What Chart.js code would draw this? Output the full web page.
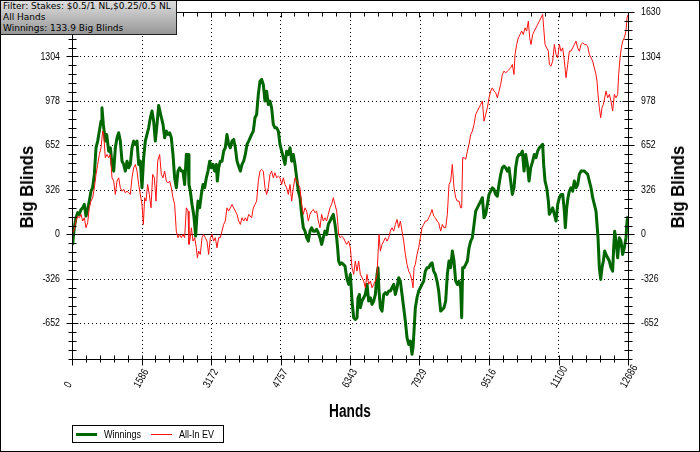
<!DOCTYPE html>
<html>
<head>
<meta charset="utf-8">
<script src="https://cdn.jsdelivr.net/npm/chart.js@4.4.0/dist/chart.umd.min.js"></script>
<style>
  html, body { margin: 0; padding: 0; background: #fff; }
  #wrap { position: relative; width: 700px; height: 452px; overflow: hidden; }
  #wrap canvas { position: absolute; left: 0; top: 0; }
  #frame { position: absolute; left: 0; top: 0; width: 698px; height: 450px; border: 1px solid #000; pointer-events: none; }
  #info {
    position: absolute; left: 0; top: 0; width: 173px; height: 33px;
    border: 1px solid #222; background: linear-gradient(#dedede, #979797);
    font: 9px 'DejaVu Sans', sans-serif; line-height: 11px; padding-left: 2px; color: #000;
    white-space: nowrap;
  }
  .ytitle {
    position: absolute; top: 187px; width: 120px; height: 24px; margin-left: -60px; margin-top: -12px;
    text-align: center; line-height: 24px; transform: rotate(-90deg) scaleX(0.88);
    font: bold 19px 'Liberation Sans', Arial, sans-serif;
  }
  #xtitle {
    position: absolute; left: 300px; width: 100px; top: 401px; text-align: center; line-height: 21px;
    transform: scaleX(0.76);
    font: bold 18px 'Liberation Sans', Arial, sans-serif;
  }
  #legend {
    position: absolute; left: 72px; top: 425px; width: 150px; height: 16px; border: 1px solid #000; background: #fff;
    font: 11px 'Liberation Sans', Arial, sans-serif; line-height: 16px;
  }
  #legend span { position: absolute; top: 0; transform: scaleX(0.82); transform-origin: 0 50%; }
  #legend i { position: absolute; display: block; }
</style>
</head>
<body>
<div id="wrap">
  <canvas id="graph" width="700" height="452"></canvas>
  <div id="info">Filter: Stakes: $0.5/1 NL,$0.25/0.5 NL<br>All Hands<br>Winnings: 133.9 Big Blinds</div>
  <div class="ytitle" style="left:28px">Big Blinds</div>
  <div class="ytitle" style="left:679px">Big Blinds</div>
  <div id="xtitle">Hands</div>
  <div id="legend">
    <i style="left:3px; top:7px; width:21px; height:3px; background:#006600"></i>
    <span style="left:31px">Winnings</span>
    <i style="left:78px; top:8px; width:21px; height:1px; background:#ff1010"></i>
    <span style="left:106px">All-In EV</span>
  </div>
  <div id="frame"></div>
</div>
<script>
// tick labels and axis range
const xTickValues = [0, 1586, 3172, 4757, 6343, 7929, 9515, 11100, 12686];
const xTickLabels = ['0', '1586', '3172', '4757', '6343', '7929', '9516', '11100', '12686'];
const yTickValues = [-652, -326, 0, 326, 652, 978, 1304, 1630];
const X_MAX = 12686;
const Y_MIN = -913;
const Y_MAX = 1630;

// Winnings (big blinds)
const winHands = [0, 15, 53, 91, 129, 167, 205, 243, 281, 319, 357, 395, 433, 471, 510, 548, 586, 624, 662, 684, 715, 760, 791, 837, 875, 913, 951, 989, 1027, 1065, 1103, 1141, 1179, 1217, 1255, 1293, 1331, 1369, 1407, 1445, 1483, 1521, 1559, 1597, 1635, 1673, 1711, 1749, 1787, 1825, 1863, 1901, 1940, 1978,
  2023, 2076, 2114, 2152, 2190, 2228, 2266, 2304, 2342, 2380, 2418, 2456, 2494, 2532, 2570, 2609, 2647, 2669, 2700, 2738, 2776, 2799, 2821, 2852, 2875, 2913, 2951, 2989, 3027, 3065, 3103, 3141, 3179, 3217, 3255, 3293, 3316, 3346, 3384, 3422, 3460, 3498, 3536, 3574, 3612, 3651, 3689, 3727, 3765, 3803, 3841, 3879, 3917, 3955, 3993, 4031,
  4099, 4137, 4175, 4213, 4251, 4289, 4327, 4365, 4403, 4441, 4479, 4517, 4555, 4593, 4631, 4669, 4708, 4746, 4784, 4822, 4860, 4898, 4936, 4974, 5012, 5050, 5088, 5126, 5164, 5202, 5240, 5278, 5316, 5354, 5392, 5430, 5468, 5506, 5544, 5582, 5620, 5658, 5696, 5734, 5772, 5810, 5848, 5886, 5924, 5962, 6001, 6039, 6061, 6084, 6115, 6153, 6191, 6229, 6267,
  6313, 6351, 6389, 6427, 6465, 6503, 6526, 6557, 6579, 6617, 6655, 6693, 6731, 6769, 6808, 6846, 6884, 6922, 6960, 6982, 7005, 7036, 7074, 7112, 7150, 7188, 7226, 7264, 7302, 7340, 7378, 7416, 7454, 7492, 7530, 7568, 7606, 7644, 7682, 7720, 7758, 7781, 7804, 7834, 7872, 7910, 7948, 7986, 8024, 8062, 8101, 8139, 8177, 8215, 8253, 8291, 8329, 8367,
  8412, 8450, 8488, 8526, 8564, 8602, 8640, 8678, 8716, 8754, 8792, 8830, 8868, 8891, 8914, 8945, 8983, 9021, 9059, 9097, 9135, 9173, 9211, 9249, 9287, 9325, 9363, 9401, 9439, 9477, 9515, 9553, 9591, 9629, 9667, 9705, 9743, 9781, 9819, 9857, 9895, 9933, 9971, 10009, 10047, 10085, 10123, 10161, 10200, 10238, 10276, 10314, 10352, 10390, 10428, 10466,
  10511, 10549, 10587, 10625, 10663, 10701, 10739, 10762, 10793, 10831, 10869, 10891, 10929, 10967, 11006, 11044, 11082, 11120, 11158, 11196, 11234, 11256, 11287, 11317, 11348, 11386, 11424, 11462, 11500, 11538, 11576, 11614, 11652, 11690, 11728, 11766, 11804, 11842, 11880, 11918, 11956, 11979, 12002, 12032, 12063, 12093, 12124, 12154, 12184, 12222, 12260, 12298, 12336, 12359, 12382, 12412, 12450, 12488, 12526, 12564, 12602, 12640, 12664, 12686];
const winBB = [0, -70, 50, 122, 160, 147, 183, 195, 220, 134, 183, 244, 317, 342, 440, 635, 684, 757, 830, 928, 806, 684, 733, 610, 635, 513, 464, 635, 708, 745, 684, 537, 513, 464, 537, 488, 513, 635, 684, 660, 684, 513, 537, 342, 562, 684, 733, 781, 855, 904, 830, 684, 806, 945,
  879, 806, 708, 757, 733, 745, 708, 586, 415, 342, 464, 488, 464, 464, 366, 586, 586, 366, 317, 220, 147, 73, -12, 147, 244, 195, 293, 366, 342, 415, 464, 537, 488, 513, 464, 513, 391, 488, 537, 537, 610, 635, 733, 660, 635, 684, 696, 635, 537, 500, 464, 513, 537, 586, 660, 684,
  733, 757, 855, 879, 1026, 1123, 1136, 1099, 977, 1050, 952, 977, 928, 806, 781, 781, 757, 660, 610, 562, 513, 610, 586, 635, 537, 586, 513, 415, 317, 269, 147, 49, 24, -24, -49, 24, 49, 24, 24, 37, 12, -24, -73, -24, 24, 0, 73, 98, 122, 147, 73, -24, -98, -195, -220, -208, -220, -232, -317,
  -366, -293, -488, -610, -623, -610, -464, -440, -537, -488, -464, -440, -366, -488, -464, -513, -488, -440, -293, -244, -415, -537, -562, -440, -427, -440, -415, -415, -391, -366, -440, -391, -317, -342, -440, -537, -635, -757, -806, -781, -879, -830, -708, -537, -464, -415, -391, -366, -342, -269, -244, -244, -220, -208, -269, -293, -342, -415,
  -562, -550, -537, -488, -293, -195, -244, -122, -195, -342, -366, -342, -391, -610, -244, -244, -220, -195, -98, -49, -24, 73, 171, 195, 220, 244, 269, 122, 147, 220, 293, 317, 342, 330, 293, 281, 366, 440, 488, 500, 488, 464, 488, 391, 293, 342, 488, 562, 586, 586, 610, 464, 586, 513, 391, 488,
  537, 586, 562, 610, 635, 647, 660, 513, 391, 342, 244, 147, 171, 195, 147, 98, 220, 269, 293, 293, 171, 49, 195, 269, 317, 342, 317, 391, 342, 366, 440, 464, 464, 464, 452, 440, 391, 342, 269, 220, 171, 73, -24, -244, -330, -244, -195, -122, -147, -171, -195, -244, -269, -98, 24, -49, -171, -24, -49, -147, -98, -24, 98, 134];

// All-In EV (big blinds)
const evHands = [0, 53, 91, 129, 167, 205, 243, 281, 319, 357, 395, 433, 471, 510, 548, 586, 624, 662, 700, 723, 760, 799, 837, 875, 913, 951, 989, 1027, 1065, 1103, 1141, 1179, 1217, 1255, 1293, 1331, 1369, 1407, 1445, 1483, 1521, 1559, 1597, 1628, 1658, 1688, 1726, 1764, 1803, 1841, 1879, 1917, 1955,
  2000, 2038, 2076, 2114, 2152, 2190, 2228, 2266, 2304, 2342, 2380, 2418, 2456, 2494, 2532, 2570, 2609, 2647, 2669, 2700, 2723, 2761, 2799, 2837, 2860, 2890, 2928, 2966, 3004, 3042, 3080, 3118, 3156, 3194, 3232, 3270, 3308, 3346, 3384, 3422, 3460, 3498, 3536, 3574, 3612, 3651, 3689, 3727, 3765, 3803, 3841, 3879, 3917, 3955, 3993, 4031,
  4099, 4137, 4175, 4213, 4251, 4289, 4327, 4365, 4403, 4441, 4479, 4517, 4555, 4593, 4631, 4669, 4708, 4746, 4784, 4822, 4860, 4898, 4936, 4974, 5012, 5050, 5088, 5126, 5164, 5202, 5240, 5278, 5316, 5354, 5392, 5430, 5468, 5506, 5544, 5582, 5620, 5658, 5696, 5734, 5772, 5810, 5848, 5886, 5924, 5962, 6001, 6039, 6061, 6084, 6115, 6153, 6191, 6229, 6267,
  6313, 6351, 6389, 6427, 6465, 6503, 6541, 6579, 6617, 6655, 6693, 6731, 6769, 6808, 6846, 6884, 6922, 6960, 6982, 7005, 7036, 7074, 7112, 7150, 7188, 7226, 7264, 7302, 7340, 7378, 7416, 7454, 7492, 7530, 7568, 7606, 7644, 7682, 7720, 7758, 7781, 7804, 7834, 7872, 7910, 7948, 7986, 8024, 8062, 8101, 8139, 8177, 8215, 8253, 8291, 8329, 8367,
  8412, 8450, 8488, 8526, 8564, 8602, 8640, 8678, 8716, 8754, 8792, 8830, 8868, 8891, 8914, 8945, 8983, 9021, 9059, 9097, 9135, 9173, 9211, 9249, 9287, 9325, 9363, 9401, 9439, 9477, 9515, 9553, 9591, 9629, 9667, 9705, 9743, 9781, 9819, 9857, 9895, 9933, 9971, 10009, 10047, 10085, 10108, 10146, 10184, 10222, 10260, 10298, 10336, 10374, 10412, 10443, 10473,
  10511, 10549, 10587, 10625, 10663, 10701, 10739, 10762, 10793, 10831, 10869, 10891, 10929, 10967, 11006, 11044, 11082, 11120, 11158, 11196, 11234, 11272, 11310, 11348, 11386, 11424, 11462, 11500, 11538, 11576, 11614, 11652, 11690, 11728, 11766, 11804, 11842, 11880, 11918, 11956, 11979, 12002, 12032, 12063, 12093, 12124, 12154, 12184, 12222, 12260, 12298, 12336, 12374, 12412, 12450, 12473, 12504, 12534, 12564, 12602, 12640, 12664, 12686];
const evBB = [0, 37, 98, 134, 122, 147, 98, 122, 49, 85, 195, 244, 269, 342, 440, 513, 586, 635, 757, 733, 562, 586, 562, 586, 415, 391, 293, 391, 415, 342, 317, 330, 305, 317, 305, 293, 415, 488, 513, 464, 366, 293, 220, 73, 269, 244, 366, 293, 195, 440, 415, 244, 537,
  586, 440, 415, 464, 391, 378, 391, 342, 269, 220, 24, -24, 0, -24, 0, -24, 195, 171, -73, -24, 49, -49, -24, -98, -171, -122, -147, -24, 0, -24, -49, -147, -24, 0, -49, -24, -98, -24, -24, 24, 73, 98, 195, 171, 195, 220, 195, 171, 147, 98, 73, 122, 98, 122, 98, 147,
  122, 195, 220, 244, 391, 464, 476, 464, 342, 293, 342, 440, 464, 415, 452, 415, 427, 415, 366, 415, 366, 342, 293, 366, 244, 342, 415, 391, 366, 342, 220, 147, 195, 171, 98, 147, 171, 183, 159, 171, 98, 49, 147, 98, 122, 98, 147, 195, 220, 269, 220, 171, 98, 0, -24, -12, -24, -49, -73,
  -49, -98, -244, -293, -195, -269, -195, -293, -317, -342, -391, -293, -366, -342, -391, -366, -342, -293, -147, 0, -122, -73, -49, -24, -49, -24, 24, 49, 24, 73, 110, 49, 98, 24, -49, -147, -220, -269, -293, -342, -391, -244, -220, -147, -98, -24, 49, 73, 98, 98, 122, 147, 183, 134, 122, 98, 85,
  24, 73, 49, 49, 147, 366, 391, 513, 342, 269, 244, 244, 195, 195, 562, 562, 550, 610, 660, 733, 757, 806, 879, 904, 928, 952, 977, 830, 879, 928, 1001, 1050, 1074, 1050, 1038, 1001, 1050, 1099, 1172, 1197, 1184, 1197, 1209, 1221, 1245, 1172, 1319, 1392, 1441, 1465, 1490, 1465, 1514, 1490, 1563, 1441, 1392,
  1465, 1490, 1514, 1538, 1563, 1587, 1612, 1514, 1392, 1367, 1343, 1245, 1233, 1270, 1392, 1319, 1294, 1392, 1343, 1367, 1270, 1148, 1245, 1343, 1343, 1367, 1392, 1416, 1367, 1343, 1392, 1404, 1392, 1392, 1380, 1319, 1294, 1270, 1221, 1172, 1123, 1026, 928, 855, 928, 952, 1001, 1050, 1001, 1026, 977, 904, 1026, 1001, 1026, 1172, 1294, 1367, 1416, 1441, 1490, 1587, 1610];

const TICK_FONT = "11px 'Liberation Sans', Arial, sans-serif";
const TICK_SQUEEZE = 0.8;

function squeezedText(ctx, text, x, y, angle) {
  ctx.save();
  ctx.translate(x, y);
  if (angle) ctx.rotate(angle);
  ctx.scale(TICK_SQUEEZE, 1);
  ctx.fillText(text, 0, 0);
  ctx.restore();
}

// ticks, dotted grid, frame and tick labels drawn around the plot
const axisPlugin = {
  id: 'axisPlugin',
  beforeDatasetsDraw(chart) {
    const { ctx, chartArea: a, scales: { x, y } } = chart;
    ctx.save();
    ctx.strokeStyle = '#000';
    ctx.lineWidth = 1;
    ctx.setLineDash([1, 3]);
    ctx.beginPath();
    yTickValues.forEach(v => {
      if (v === 0 || v >= Y_MAX) return;
      const py = Math.round(y.getPixelForValue(v)) + 0.5;
      ctx.moveTo(a.left, py);
      ctx.lineTo(a.right, py);
    });
    xTickValues.forEach(v => {
      if (v <= 0 || v >= X_MAX) return;
      const px = Math.round(x.getPixelForValue(v)) + 0.5;
      ctx.moveTo(px, a.top);
      ctx.lineTo(px, a.bottom);
    });
    ctx.stroke();
    ctx.setLineDash([]);
    const zy = Math.round(y.getPixelForValue(0)) + 0.5;
    ctx.beginPath();
    ctx.moveTo(a.left, zy);
    ctx.lineTo(a.right, zy);
    ctx.stroke();
    ctx.restore();
  },
  afterDatasetsDraw(chart) {
    const { ctx, chartArea: a, scales: { x, y } } = chart;
    const L = Math.round(a.left) + 0.5, R = Math.round(a.right) + 0.5;
    const T = Math.round(a.top) + 0.5, B = Math.round(a.bottom) + 0.5;
    ctx.save();
    ctx.strokeStyle = '#000';
    ctx.lineWidth = 1;
    ctx.beginPath();
    ctx.rect(L, T, R - L, B - T);

    // y ticks, both sides, major every label and 4 minor between
    const yStep = (yTickValues[1] - yTickValues[0]) / 5;
    for (let k = 0; ; k++) {
      const v = Y_MAX - k * yStep;
      if (v < Y_MIN - 1) break;
      const major = k % 5 === 0;
      const py = Math.round(y.getPixelForValue(v)) + 0.5;
      const len = major ? 6 : 4;
      ctx.moveTo(L - len, py); ctx.lineTo(L + len, py);
      ctx.moveTo(R - len, py); ctx.lineTo(R + len, py);
    }
    // x ticks, bottom and top
    const xStep = X_MAX / 8 / 5;
    for (let k = 0; k <= 40; k++) {
      const major = k % 5 === 0;
      const px = Math.round(x.getPixelForValue(k * xStep)) + 0.5;
      ctx.moveTo(px, B - 4); ctx.lineTo(px, B + (major ? 6 : 3));
      ctx.moveTo(px, T); ctx.lineTo(px, T + (major ? 5 : 4));
    }
    ctx.stroke();

    ctx.fillStyle = '#000';
    ctx.font = TICK_FONT;
    ctx.textBaseline = 'middle';
    yTickValues.forEach(v => {
      const py = y.getPixelForValue(v);
      const w = ctx.measureText(String(v)).width * TICK_SQUEEZE;
      squeezedText(ctx, String(v), a.left - 12 - w, py);
      squeezedText(ctx, String(v), a.right + 13, py);
    });
    ctx.textAlign = 'left';
    xTickValues.forEach((v, i) => {
      const px = x.getPixelForValue(v);
      squeezedText(ctx, xTickLabels[i], px - 5, a.bottom + 28, -Math.PI / 3);
    });
    ctx.restore();
  }
};

new Chart(document.getElementById('graph').getContext('2d'), {
  type: 'line',
  data: {
    datasets: [
      {
        label: 'All-In EV',
        data: evHands.map((h, i) => ({ x: h, y: evBB[i] })),
        borderColor: '#ff1010',
        borderWidth: 1,
        pointRadius: 0,
        tension: 0,
        order: 1
      },
      {
        label: 'Winnings',
        data: winHands.map((h, i) => ({ x: h, y: winBB[i] })),
        borderColor: '#006600',
        borderWidth: 3,
        pointRadius: 0,
        tension: 0,
        borderJoinStyle: 'round',
        order: 2
      }
    ]
  },
  options: {
    responsive: false,
    animation: false,
    layout: { padding: { left: 72, right: 72, top: 12, bottom: 93 } },
    scales: {
      x: { type: 'linear', min: 0, max: X_MAX, display: false },
      y: { type: 'linear', min: Y_MIN, max: Y_MAX, display: false }
    },
    plugins: { legend: { display: false }, tooltip: { enabled: false } }
  },
  plugins: [axisPlugin]
});
</script>
</body>
</html>
